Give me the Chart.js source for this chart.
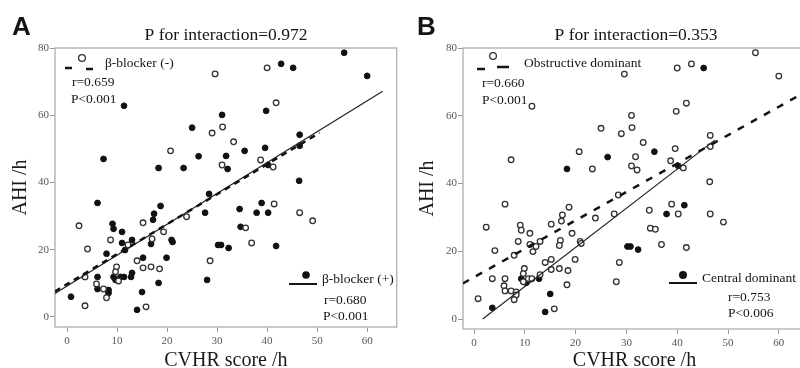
<!DOCTYPE html>
<html>
<head>
<meta charset="utf-8">
<script src="https://cdn.jsdelivr.net/npm/chart.js@4.4.1/dist/chart.umd.min.js"></script>
<style>
    html, body { margin: 0; padding: 0; background: #fff; }
    #wrap { position: relative; width: 800px; height: 368px; overflow: hidden; }
    canvas { position: absolute; top: 0; }
    #chartA { left: 0; }
    #chartB { left: 402px; }
</style>
</head>
<body>
<div id="wrap">
    <canvas id="chartA" width="402" height="380"></canvas>
    <canvas id="chartB" width="410" height="380"></canvas>
</div>
<script>
// each patient: CVHR score (x) and AHI (y), same points in both panels
const cvhr = [11.4, 7.3, 20.7, 18.3, 23.3, 25.0, 26.3, 29.0, 29.6, 31.0,
    31.1, 31.8, 31.0, 32.1, 33.3, 35.5, 38.7, 39.6, 39.8, 40.0,
    41.8, 42.8, 45.2, 46.5, 46.4, 55.4, 60.0, 41.2, 40.2, 46.5,
    6.1, 2.4, 9.1, 9.3, 11.0, 17.4, 18.7, 17.2, 15.2, 19.3,
    23.9, 27.6, 28.4, 4.1, 8.7, 11.0, 11.6, 13.0, 12.2, 7.9,
    17.0, 16.8, 20.9, 21.1, 19.9, 14.0, 15.2, 15.2, 16.8, 18.5,
    9.9, 9.7, 9.3, 9.7, 10.7, 11.4, 12.8, 13.0, 10.3, 6.1,
    3.6, 5.9, 6.1, 7.3, 8.3, 8.3, 7.9, 0.8, 3.6, 14.0,
    15.8, 15.0, 18.3, 28.6, 28.0, 30.2, 30.8, 32.3, 34.5, 34.7,
    35.7, 36.9, 37.9, 38.9, 40.2, 41.4, 41.8, 46.5, 49.1];
const ahi = [62.8, 47.0, 49.4, 44.3, 44.3, 56.3, 47.8, 54.7, 72.3, 60.1,
    56.5, 47.9, 45.2, 44.0, 52.1, 49.4, 46.7, 50.3, 61.3, 74.1,
    63.7, 75.3, 74.1, 54.2, 40.5, 78.6, 71.7, 44.6, 45.2, 50.9,
    33.9, 27.1, 27.7, 26.2, 25.3, 30.7, 33.0, 28.9, 28.0, 25.3,
    29.8, 31.0, 36.6, 20.2, 22.9, 22.0, 19.9, 22.9, 21.4, 18.8,
    23.2, 21.7, 22.9, 22.3, 17.6, 16.7, 17.6, 14.6, 14.9, 14.3,
    14.9, 13.4, 11.9, 11.0, 11.9, 11.9, 11.9, 13.1, 10.7, 11.9,
    11.9, 9.8, 8.3, 8.3, 8.0, 7.1, 5.7, 6.0, 3.3, 2.1,
    3.0, 7.4, 10.1, 16.7, 11.0, 21.4, 21.4, 20.5, 32.1, 26.8,
    26.5, 22.0, 31.0, 33.9, 31.0, 33.6, 21.1, 31.0, 28.6];
// 1 = beta-blocker (+)
const betaBlocker = [1, 1, 0, 1, 1, 1, 1, 0, 0, 1,
    0, 1, 0, 1, 0, 1, 0, 1, 1, 0,
    0, 1, 1, 1, 1, 1, 1, 0, 1, 1,
    1, 0, 1, 1, 1, 1, 1, 1, 0, 0,
    0, 1, 1, 0, 0, 1, 1, 1, 0, 1,
    0, 1, 1, 1, 1, 0, 1, 0, 0, 0,
    0, 0, 1, 1, 1, 1, 1, 1, 0, 1,
    0, 0, 1, 0, 1, 1, 0, 1, 0, 1,
    0, 1, 1, 0, 1, 1, 1, 1, 1, 1,
    0, 0, 1, 1, 1, 0, 1, 0, 0];
// 1 = central dominant, 0 = obstructive dominant
const centralDominant = [0, 0, 0, 1, 0, 0, 1, 0, 0, 0,
    0, 0, 0, 0, 0, 1, 0, 0, 0, 0,
    0, 0, 1, 0, 0, 0, 0, 0, 1, 0,
    0, 0, 0, 0, 0, 0, 0, 0, 0, 0,
    0, 0, 0, 0, 0, 0, 0, 0, 0, 0,
    0, 0, 0, 0, 0, 0, 0, 0, 0, 0,
    0, 0, 1, 0, 0, 0, 1, 0, 1, 0,
    0, 0, 0, 0, 0, 0, 0, 0, 1, 1,
    0, 1, 0, 0, 0, 1, 1, 1, 0, 0,
    0, 0, 1, 0, 0, 1, 0, 0, 0];

const xTicks = [0, 10, 20, 30, 40, 50, 60];
const yTicks = [0, 20, 40, 60, 80];

// regression line end points
const fitNoBlockerX = [-2.4, 50.5];
const fitNoBlockerY = [7.6, 54.8];
const fitBlockerX = [-2.4, 63.1];
const fitBlockerY = [7.0, 67.1];
const fitObstructiveX = [-2.2, 63.5];
const fitObstructiveY = [10.5, 65.6];
const fitCentralX = [1.7, 47.4];
const fitCentralY = [0, 52.8];

const serif = "'Liberation Serif', 'Times New Roman', serif";

function pickPoints(flags, want) {
    const out = [];
    cvhr.forEach((x, i) => {
        if (flags[i] === want) out.push({ x: x, y: ahi[i] });
    });
    return out;
}

function linePoints(xs, ys) {
    return xs.map((x, i) => ({ x: x, y: ys[i] }));
}

function text(ctx, str, x, y, size, opts) {
    ctx.font = (opts && opts.bold ? 'bold ' : '') + size + 'px ' + (opts && opts.sans ? "'Liberation Sans', Arial, sans-serif" : serif);
    ctx.textAlign = (opts && opts.align) || 'left';
    ctx.textBaseline = (opts && opts.baseline) || 'middle';
    ctx.fillStyle = '#151515';
    ctx.fillText(str, x, y);
}

function dash(ctx, x1, x2, y, w) {
    ctx.beginPath();
    ctx.lineWidth = w;
    ctx.strokeStyle = '#151515';
    ctx.moveTo(x1, y);
    ctx.lineTo(x2, y);
    ctx.stroke();
}

function dot(ctx, x, y, r, filled) {
    ctx.beginPath();
    ctx.arc(x, y, r, 0, Math.PI * 2);
    if (filled) {
        ctx.fillStyle = '#111';
        ctx.fill();
    } else {
        ctx.lineWidth = 1.3;
        ctx.strokeStyle = '#333';
        ctx.stroke();
    }
}

const framePlugin = {
    id: 'frame',
    beforeDatasetsDraw(chart) {
        const a = chart.chartArea;
        const ctx = chart.ctx;
        ctx.save();
        ctx.strokeStyle = '#b8b8b8';
        ctx.lineWidth = 1.5;
        ctx.strokeRect(a.left, a.top, a.right - a.left, a.bottom - a.top);
        ctx.restore();
    },
    afterDraw(chart, args, opts) {
        const ctx = chart.ctx;
        ctx.save();
        opts.draw(ctx);
        ctx.restore();
    }
};

function makeChart(id, p) {
    return new Chart(document.getElementById(id), {
        type: 'scatter',
        data: {
            datasets: [
                {
                    label: p.openLabel,
                    data: p.open,
                    pointRadius: 2.8,
                    pointBackgroundColor: '#fff',
                    pointBorderColor: '#333',
                    pointBorderWidth: 1.3,
                    order: 2
                },
                {
                    label: p.filledLabel,
                    data: p.filled,
                    pointRadius: 2.9,
                    pointBackgroundColor: '#111',
                    pointBorderColor: '#111',
                    pointBorderWidth: 1,
                    order: 2
                },
                {
                    data: p.dashFit,
                    showLine: true,
                    borderColor: '#111',
                    borderWidth: 2.5,
                    borderDash: p.dashPattern,
                    pointRadius: 0,
                    order: 1
                },
                {
                    data: p.solidFit,
                    showLine: true,
                    borderColor: '#222',
                    borderWidth: 1.2,
                    pointRadius: 0,
                    order: 1
                }
            ]
        },
        options: {
            responsive: false,
            animation: false,
            events: [],
            layout: { padding: { top: 48, left: 0, right: p.padRight, bottom: 0 } },
            plugins: {
                legend: { display: false },
                tooltip: { enabled: false },
                frame: { draw: p.notes }
            },
            scales: {
                x: {
                    type: 'linear',
                    min: p.xMin,
                    max: p.xMax,
                    afterFit: s => { s.height = p.xAxisHeight; },
                    afterBuildTicks: s => { s.ticks = xTicks.map(v => ({ value: v })); },
                    border: { display: false },
                    grid: { drawOnChartArea: false, tickLength: 5, color: '#999' },
                    ticks: { font: { family: serif, size: 11 }, color: '#555', padding: 3, maxRotation: 0 },
                    title: {
                        display: true,
                        text: 'CVHR score /h',
                        font: { family: serif, size: 20 },
                        color: '#1a1a1a',
                        padding: { top: 0, bottom: 7 }
                    }
                },
                y: {
                    type: 'linear',
                    min: p.yMin,
                    max: 80,
                    afterFit: s => { s.width = p.yAxisWidth; },
                    afterBuildTicks: s => { s.ticks = yTicks.map(v => ({ value: v })); },
                    border: { display: false },
                    grid: { drawOnChartArea: false, tickLength: 5, color: '#999' },
                    ticks: { font: { family: serif, size: 11 }, color: '#555', padding: 1 },
                    title: {
                        display: true,
                        text: 'AHI /h',
                        font: { family: serif, size: 20 },
                        color: '#1a1a1a',
                        padding: { top: p.yTitlePad, bottom: 0 }
                    }
                }
            }
        },
        plugins: [framePlugin]
    });
}

makeChart('chartA', {
    openLabel: 'β-blocker (-)',
    filledLabel: 'β-blocker (+)',
    open: pickPoints(betaBlocker, 0),
    filled: pickPoints(betaBlocker, 1),
    dashFit: linePoints(fitNoBlockerX, fitNoBlockerY),
    solidFit: linePoints(fitBlockerX, fitBlockerY),
    dashPattern: [6, 5],
    xMin: -2.4, xMax: 65.9, yMin: -3,
    padRight: 1, xAxisHeight: 53, yAxisWidth: 55, yTitlePad: 9,
    notes: ctx => {
        text(ctx, 'A', 12, 35, 26, { bold: true, sans: true, baseline: 'alphabetic' });
        text(ctx, 'P for interaction=0.972', 226, 35.5, 17.5, { align: 'center' });
        dash(ctx, 65, 72, 68, 2.5);
        dot(ctx, 82, 58, 3.4, false);
        dash(ctx, 86, 93, 69, 2.5);
        text(ctx, 'β-blocker (-)', 105, 63, 13.5);
        text(ctx, 'r=0.659', 72, 82, 13.5);
        text(ctx, 'P<0.001', 71, 99, 13.5);
        dot(ctx, 306, 275, 3.8, true);
        dash(ctx, 289, 317, 284, 2);
        text(ctx, 'β-blocker (+)', 322, 279, 13.5);
        text(ctx, 'r=0.680', 324, 300, 13.5);
        text(ctx, 'P<0.001', 323, 316, 13.5);
    }
});

makeChart('chartB', {
    openLabel: 'Obstructive dominant',
    filledLabel: 'Central dominant',
    open: pickPoints(centralDominant, 0),
    filled: pickPoints(centralDominant, 1),
    dashFit: linePoints(fitObstructiveX, fitObstructiveY),
    solidFit: linePoints(fitCentralX, fitCentralY),
    dashPattern: [7, 8],
    xMin: -2.17, xMax: 65.35, yMin: -2.95,
    padRight: 6, xAxisHeight: 51, yAxisWidth: 61, yTitlePad: 14,
    notes: ctx => {
        text(ctx, 'B', 15, 35, 26, { bold: true, sans: true, baseline: 'alphabetic' });
        text(ctx, 'P for interaction=0.353', 234, 35.5, 17.5, { align: 'center' });
        dash(ctx, 75, 83, 69, 2.5);
        dot(ctx, 91, 56, 3.4, false);
        dash(ctx, 95, 107, 67, 2.5);
        text(ctx, 'Obstructive dominant', 122, 63, 13.5);
        text(ctx, 'r=0.660', 80, 83, 13.5);
        text(ctx, 'P<0.001', 80, 100, 13.5);
        dot(ctx, 281, 275, 4, true);
        dash(ctx, 267, 295, 283, 2);
        text(ctx, 'Central dominant', 300, 278, 13.5);
        text(ctx, 'r=0.753', 326, 297, 13.5);
        text(ctx, 'P<0.006', 326, 313, 13.5);
    }
});
</script>
</body>
</html>
